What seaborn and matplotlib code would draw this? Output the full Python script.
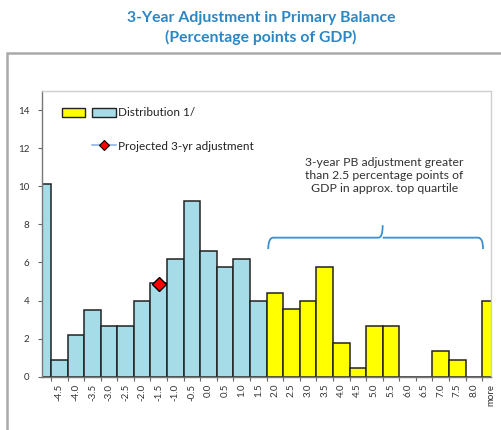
import numpy as np
import pandas as pd
import seaborn as sns
import matplotlib.pyplot as plt
from matplotlib.patches import Rectangle, PathPatch
from matplotlib.path import Path
from matplotlib.lines import Line2D
from matplotlib.legend_handler import HandlerTuple

# ---------------- DATA ------------------
bins = ["less", "-4.5", "-4.0", "-3.5", "-3.0", "-2.5", "-2.0", "-1.5", "-1.0", "-0.5",
        "0.0", "0.5", "1.0", "1.5", "2.0", "2.5", "3.0", "3.5", "4.0", "4.5",
        "5.0", "5.5", "6.0", "6.5", "7.0", "7.5", "8.0", "more"]
share = [10.1, 0.9, 2.2, 3.5, 2.65, 2.65, 4.0, 4.9, 6.2, 9.25,
         6.6, 5.75, 6.2, 4.0, 4.4, 3.55, 4.0, 5.75, 1.77, 0.45,
         2.65, 2.65, 0.0, 0.0, 1.33, 0.9, 0.0, 4.0]
group = ["low"] * 14 + ["top"] * 14
projected_bin = "-1.5"
projected_value = 4.85

TITLE = "3-Year Adjustment in Primary Balance\n(Percentage points of GDP)"
NOTE = "3-year PB adjustment greater\nthan 2.5 percentage points of\nGDP in approx. top quartile"
BLUE = "#a6dce8"
YELLOW = "#ffff00"

df = pd.DataFrame({"bin": bins, "share": share, "group": group})

# ---------------- PLOT ------------------
sns.set_style("white")
plt.rcParams["font.family"] = ["Lato", "DejaVu Sans"]

fig = plt.figure(figsize=(5.02, 4.30), dpi=100)
ax = fig.add_axes([42 / 502, 1 - 376.7 / 430, 449 / 502, (376.7 - 91) / 430])

sns.barplot(data=df, x="bin", y="share", hue="group", order=bins,
            palette={"low": BLUE, "top": YELLOW}, dodge=False, width=1,
            saturation=1, edgecolor="#222222", linewidth=1.1, legend=False, ax=ax)

# projected adjustment marker
px = bins.index(projected_bin)
ax.plot([px], [projected_value], marker="D", markersize=7.5, color="red",
        markeredgecolor="black", markeredgewidth=1, linestyle="none", zorder=5)

ax.set_xlim(-0.04, 27.03)
ax.set_ylim(0, 15)
ax.set_xlabel("")
ax.set_ylabel("")

ax.set_xticks(range(len(bins)))
ax.set_xticklabels([""] + bins[1:], rotation=90, fontsize=7, color="#333333")
ax.set_xticks(np.arange(len(bins) - 1) + 0.5, minor=True)
ax.tick_params(axis="x", which="major", length=0, pad=5)
ax.tick_params(axis="x", which="minor", length=3, width=0.8, color="#666666", direction="out", bottom=True)
ax.set_yticks(range(0, 15, 2))
ax.tick_params(axis="y", length=3, width=0.8, color="#666666", direction="out", left=True,
               labelsize=7, labelcolor="#333333", pad=6)

for side in ["left", "bottom"]:
    ax.spines[side].set_color("#777777")
    ax.spines[side].set_linewidth(1)
for side in ["top", "right"]:
    ax.spines[side].set_color("#cfcfcf")
    ax.spines[side].set_linewidth(1)

# legend
h_dist = (Rectangle((0, 0), 1, 1, facecolor=YELLOW, edgecolor="#222222", linewidth=1),
          Rectangle((0, 0), 1, 1, facecolor=BLUE, edgecolor="#222222", linewidth=1))
h_proj = (Line2D([0], [0], linestyle="none"),
          Line2D([0], [0], color="#9ec3e6", linewidth=1.5, marker="D", markersize=5,
                 markerfacecolor="red", markeredgecolor="black", markeredgewidth=0.8))
leg = ax.legend([h_dist, h_proj], ["Distribution 1/", "Projected 3-yr adjustment"],
                handler_map={tuple: HandlerTuple(ndivide=None, pad=0.6)},
                loc="upper left", bbox_to_anchor=(0.02, 0.98), frameon=False,
                fontsize=8.5, handlelength=4.6, handleheight=0.85, handletextpad=0.2,
                labelspacing=1.9)
for t in leg.get_texts():
    t.set_color("#222222")

# note and brace
ax.text(20.6, 10.55, NOTE, ha="center", va="center", fontsize=8.8, color="#333333",
        linespacing=1.2)
x0, x1, xm = 13.6, 26.55, 20.5
yb, ye, yt = 7.3, 6.7, 7.95
verts = [(x0, ye), (x0, yb), (x0 + 0.3, yb), (xm - 0.25, yb), (xm, yb), (xm, yt),
         (xm, yb), (xm + 0.25, yb), (x1 - 0.3, yb), (x1, yb), (x1, ye)]
codes = [Path.MOVETO, Path.CURVE3, Path.CURVE3, Path.LINETO, Path.CURVE3, Path.CURVE3,
         Path.MOVETO, Path.CURVE3, Path.LINETO, Path.CURVE3, Path.CURVE3]
ax.add_patch(PathPatch(Path(verts, codes), facecolor="none", edgecolor="#3c8fd0",
                       linewidth=1.3, clip_on=False))

# title and outer frame
fig.text(0.52, 1 - 28 / 430, TITLE, ha="center", va="center", fontsize=11.3,
         fontweight="bold", color="#2b86c4", linespacing=1.35)
fig.patches.append(Rectangle((7 / 502, -0.1), 1.2, 1 - 52.7 / 430 + 0.1,
                             transform=fig.transFigure, facecolor="none",
                             edgecolor="#aaaaaa", linewidth=1.8))

fig.savefig("out.png", dpi=100)
